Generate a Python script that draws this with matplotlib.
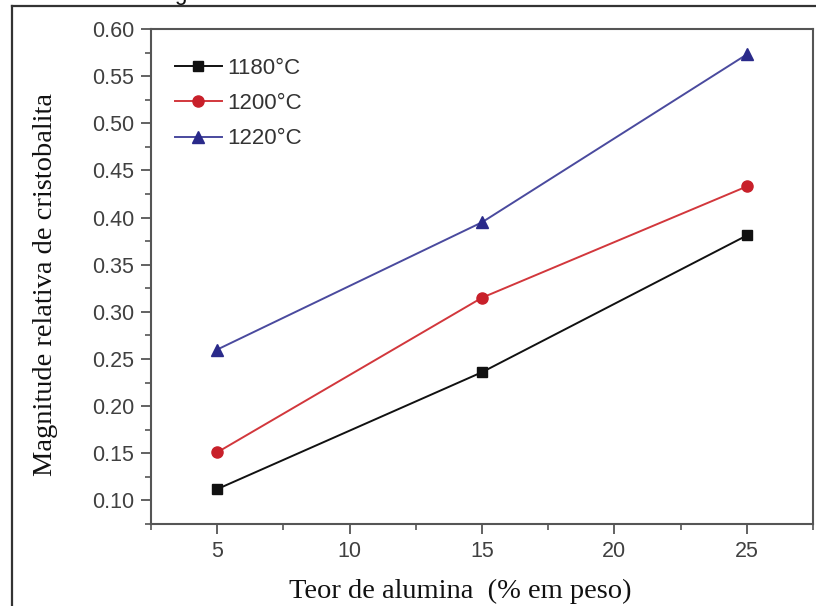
import matplotlib
matplotlib.use("Agg")
import matplotlib.pyplot as plt
from matplotlib.ticker import MultipleLocator, FormatStrFormatter
from matplotlib.lines import Line2D

alumina = [5, 15, 25]
s1180 = [0.112, 0.236, 0.381]
s1200 = [0.151, 0.315, 0.433]
s1220 = [0.260, 0.395, 0.573]
labels = ["1180°C", "1200°C", "1220°C"]

W, H = 816, 606
fig = plt.figure(figsize=(W/100, H/100), dpi=100)
L, R, T, B = 151, 813, 29, 524
ax = fig.add_axes([L/W, 1-B/H, (R-L)/W, (B-T)/H])

ax.plot(alumina, s1180, color="#111111", lw=1.4, marker="s", ms=7, label=labels[0])
ax.plot(alumina, s1200, color="#d2373c", lw=1.4, marker="o", ms=8, mfc="#c8202a", mec="#c8202a", label=labels[1])
ax.plot(alumina, s1220, color="#4a4a9e", lw=1.4, marker="^", ms=9, mfc="#2a2a8a", mec="#2a2a8a", label=labels[2])

ax.set_xlim(2.5, 27.5)
ax.set_ylim(0.075, 0.60)
ax.xaxis.set_major_locator(MultipleLocator(5))
ax.xaxis.set_minor_locator(MultipleLocator(2.5))
ax.yaxis.set_major_locator(MultipleLocator(0.05))
ax.yaxis.set_minor_locator(MultipleLocator(0.025))
ax.yaxis.set_major_formatter(FormatStrFormatter("%.2f"))

for sp in ax.spines.values():
    sp.set_color("#555555")
    sp.set_linewidth(1.5)

ax.tick_params(which="major", direction="out", length=7, width=1.3, color="#555555",
               labelsize=15.5, labelcolor="#404040", pad=5)
ax.tick_params(which="minor", direction="out", length=4, width=1.2, color="#555555")
for t in ax.get_xticklabels() + ax.get_yticklabels():
    t.set_family(["Liberation Sans", "DejaVu Sans"])

ax.set_xlabel("Teor de alumina  (% em peso)", family=["Liberation Serif", "DejaVu Serif"],
              fontsize=20.5, color="#111111")
ax.xaxis.label.set_va("baseline")
ax.xaxis.set_label_coords(0.5 * (280 + 640 - 2 * L) / (R - L), (B - 598) / (B - T))
ax.set_ylabel("Magnitude relativa de cristobalita", family=["Liberation Serif", "DejaVu Serif"],
              fontsize=20.5, color="#111111")
ax.yaxis.label.set_va("center")
ax.yaxis.set_label_coords((46 - L) / (R - L), (B - 285) / (B - T))

leg = ax.legend(loc="upper left", frameon=False, handlelength=2.1,
                handletextpad=0.25, labelspacing=0.64, borderpad=0, borderaxespad=0,
                bbox_to_anchor=((175 - L) / (R - L), (B - 58) / (B - T)),
                prop={"family": ["Liberation Sans", "DejaVu Sans"], "size": 16})
for t in leg.get_texts():
    t.set_color("#333333")

# outer frame of the picture and the cropped caption letter above it
fig.add_artist(Line2D([12/W, 12/W], [0, 1-6/H], transform=fig.transFigure, color="#333333", lw=1.6))
fig.add_artist(Line2D([12/W, 1], [1-6/H, 1-6/H], transform=fig.transFigure, color="#333333", lw=1.6))
fig.text(180/W, 1.0, "g", ha="center", va="baseline", fontsize=16, color="#111111",
         family=["Liberation Sans", "DejaVu Sans"])

fig.savefig("out.png", dpi=100)
